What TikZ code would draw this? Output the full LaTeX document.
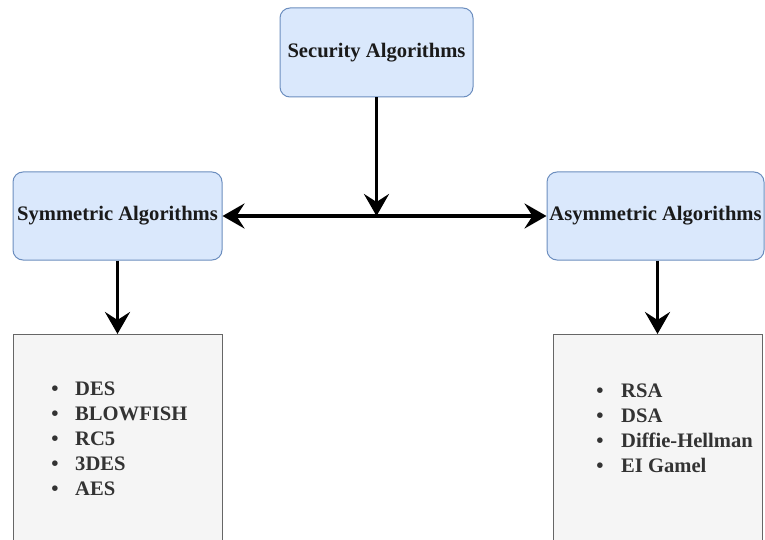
\documentclass[tikz,border=0pt]{standalone}
\usepackage{fontspec}
\setmainfont{Liberation Serif}
\usetikzlibrary{arrows.meta}
\definecolor{bluefill}{HTML}{DAE8FC}
\definecolor{bluedraw}{HTML}{6C8EBF}
\definecolor{grayfill}{HTML}{F5F5F5}
\definecolor{graydraw}{HTML}{666666}
\definecolor{listtext}{HTML}{333333}
\definecolor{headtext}{HTML}{1A1A1A}
\tikzset{
  catbox/.style={draw=bluedraw, fill=bluefill, line width=1pt, rounded corners=10pt,
    inner sep=0pt, text=headtext, font=\fontsize{20.6}{25}\selectfont\bfseries},
  listbox/.style={draw=graydraw, fill=grayfill, line width=1pt, inner sep=0pt},
  item/.style={anchor=base west, inner sep=0pt, text=listtext, font=\fontsize{20.6}{25}\selectfont\bfseries},
  bul/.style={anchor=base, inner sep=0pt, text=listtext, font=\fontsize{20.6}{25}\selectfont\bfseries},
  conn/.style={line width=3.5pt, -{Stealth[length=22pt,width=25pt,inset=8pt]}},
  conn2/.style={line width=3.5pt, {Stealth[length=22pt,width=25pt,inset=8pt]}-{Stealth[length=22pt,width=25pt,inset=8pt]}}
}
\begin{document}
\begin{tikzpicture}[x=1pt,y=-1pt]
\useasboundingbox[fill=white] (0,0) rectangle (765,540);
\clip (0,0) rectangle (765,540);
\node[catbox, minimum width=193pt, minimum height=89pt] (sec) at (376.5,52.5) {Security Algorithms};
\node[catbox, minimum width=209pt, minimum height=88pt] (sym) at (117.5,216) {Symmetric Algorithms};
\node[catbox, minimum width=217pt, minimum height=88pt] (asym) at (655.5,216) {Asymmetric Algorithms};
\node[listbox, anchor=north west, minimum width=209pt, minimum height=230pt] (lst1) at (13,334) {};
\node[listbox, anchor=north west, minimum width=209pt, minimum height=230pt] (lst2) at (553,334) {};
\coordinate (j) at (376.5,216);
% lists
\foreach \t [count=\i] in {DES,BLOWFISH,RC5,3DES,AES}{
  \node[bul] (sb\i) at (55,{395+25*(\i-1)}) {•};
  \node[item] (si\i) at (75,{395+25*(\i-1)}) {\t};
}
\foreach \t [count=\i] in {RSA,DSA,Diffie-Hellman,EI Gamel}{
  \node[bul] (ab\i) at (600,{397+25*(\i-1)}) {•};
  \node[item] (ai\i) at (621,{397+25*(\i-1)}) {\t};
}
% connectors
\draw[conn] (sec.south -| j) -- (j);
\draw[conn2] (sym.east) -- (asym.west);
\draw[conn] (sym.south) -- (sym.south |- lst1.north);
\draw[conn] ([xshift=2pt]asym.south) -- ([xshift=2pt]asym.south |- lst2.north);
\end{tikzpicture}
\end{document}
